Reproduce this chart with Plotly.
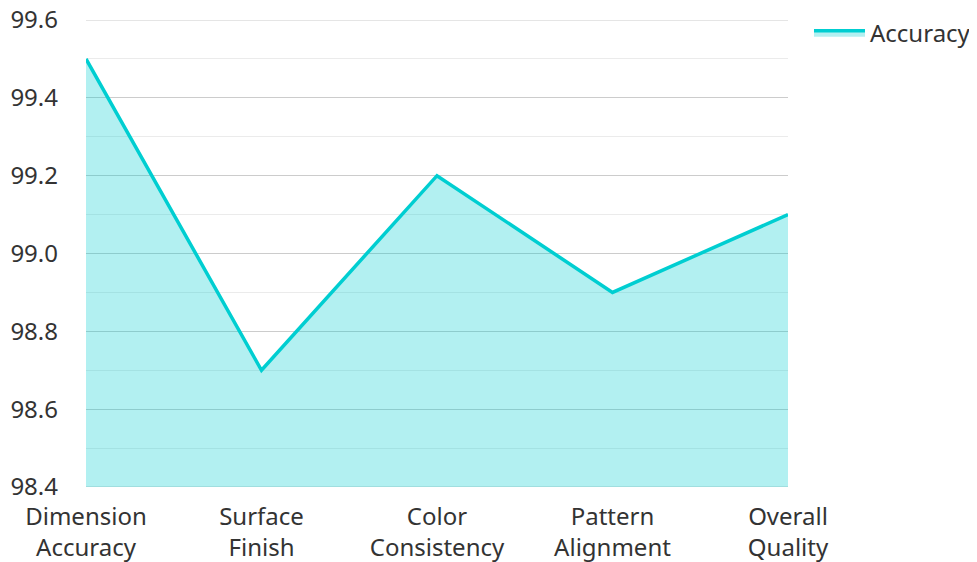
import plotly.graph_objects as go

categories = ["Dimension<br>Accuracy", "Surface<br>Finish", "Color<br>Consistency", "Pattern<br>Alignment", "Overall<br>Quality"]
accuracy = [99.5, 98.7, 99.2, 98.9, 99.1]
y_ticks = [98.4, 98.6, 98.8, 99.0, 99.2, 99.4, 99.6]

fig = go.Figure()
fig.add_trace(go.Scatter(
    x=list(range(len(categories))), y=accuracy, name="Accuracy",
    mode="lines", fill="tozeroy",
    line=dict(color="#00CED1", width=3.5),
    fillcolor="rgba(0,206,209,0.3)",
))

# edge gridlines (top and bottom of the value range), drawn below the traces
for yv in (y_ticks[0], y_ticks[-1]):
    fig.add_shape(type="line", xref="paper", x0=0, x1=1, yref="y", y0=yv, y1=yv,
                  line=dict(color="#cccccc", width=1), layer="below")

fig.update_layout(
    width=977, height=562,
    margin=dict(l=78, r=197, t=12, b=83, autoexpand=False),
    paper_bgcolor="white", plot_bgcolor="white",
    font=dict(family="Noto Sans", size=24, color="#333333"),
    showlegend=True,
    legend=dict(x=1.0299, y=1.02, xanchor="left", yanchor="top", itemwidth=51,
                font=dict(size=24, color="#333333"), bgcolor="rgba(0,0,0,0)"),
    xaxis=dict(
        range=[0, 4], tickmode="array", automargin=False,
        tickvals=list(range(len(categories))), ticktext=categories,
        showgrid=False, zeroline=False, showline=False,
        ticks="", ticklabelstandoff=13,
    ),
    yaxis=dict(
        range=[98.4, 99.6], tickmode="array", tickvals=y_ticks, automargin=False,
        tickformat=".1f", showgrid=True, gridcolor="#cccccc", gridwidth=1,
        zeroline=False, showline=False, ticks="", ticklabelstandoff=27,
        ticklabeloverflow="allow",
        minor=dict(dtick=0.1, showgrid=True, gridcolor="#ebebeb", gridwidth=1, tick0=98.4),
    ),
)

fig.write_html("out.html")
